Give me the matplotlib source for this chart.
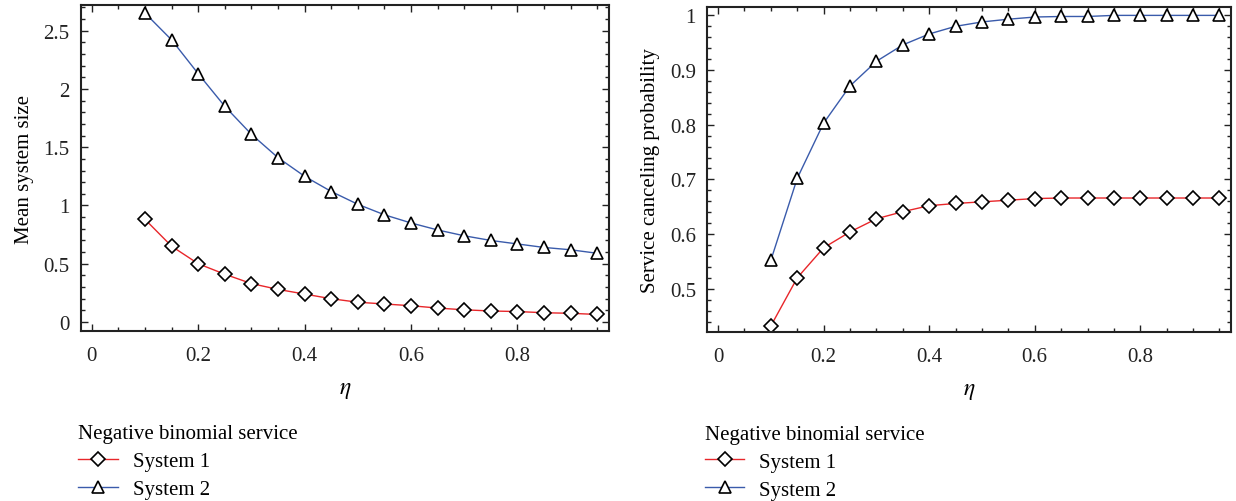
import numpy as np
import matplotlib.pyplot as plt
from matplotlib.ticker import MultipleLocator

plt.rcParams['font.family'] = ['Liberation Serif', 'DejaVu Serif']
plt.rcParams['mathtext.fontset'] = 'stix'

eta = [0.10, 0.15, 0.20, 0.25, 0.30, 0.35, 0.40, 0.45, 0.50,
       0.55, 0.60, 0.65, 0.70, 0.75, 0.80, 0.85, 0.90, 0.95]

# mean system size
size_sys1 = [0.88, 0.65, 0.50, 0.41, 0.33, 0.28, 0.24, 0.20, 0.17,
             0.155, 0.14, 0.12, 0.105, 0.095, 0.09, 0.08, 0.075, 0.065]
size_sys2 = [2.65, 2.42, 2.13, 1.85, 1.61, 1.41, 1.25, 1.12, 1.01,
             0.92, 0.85, 0.79, 0.74, 0.70, 0.67, 0.64, 0.62, 0.59]

# service canceling probability
cancel_sys1 = [0.432, 0.520, 0.575, 0.604, 0.628, 0.641, 0.652, 0.656, 0.659,
               0.662, 0.665, 0.666, 0.666, 0.666, 0.666, 0.666, 0.666, 0.666]
cancel_sys2 = [0.552, 0.702, 0.803, 0.871, 0.916, 0.946, 0.966, 0.980, 0.988,
               0.993, 0.997, 0.998, 0.998, 1.0, 1.0, 1.0, 1.0, 1.0]

red = '#e8262a'
blue = '#3a5bab'

fig = plt.figure(figsize=(12.36, 5.02), dpi=100)
ax1 = fig.add_axes([0.0653, 0.3386, 0.4274, 0.6494])
ax2 = fig.add_axes([0.572, 0.3367, 0.424, 0.647])


def draw(ax, y1, y2, ylabel, ylim, ymajor, yminor):
    ax.plot(eta, y1, color=red, lw=1.0, marker='D', ms=7.5, mfc='white',
            mec='black', mew=1.2, label='System 1')
    ax.plot(eta, y2, color=blue, lw=1.0, marker='^', ms=9, mfc='white',
            mec='black', mew=1.2, label='System 2')
    ax.set_xlim(-0.021, 0.972)
    ax.set_ylim(*ylim)
    ax.xaxis.set_major_locator(MultipleLocator(0.2))
    ax.xaxis.set_minor_locator(MultipleLocator(0.05))
    ax.yaxis.set_major_locator(MultipleLocator(ymajor))
    ax.yaxis.set_minor_locator(MultipleLocator(yminor))
    ax.xaxis.set_major_formatter(plt.FuncFormatter(lambda v, p: f'{v:g}'))
    ax.yaxis.set_major_formatter(plt.FuncFormatter(lambda v, p: f'{v:g}'))
    ax.tick_params(which='both', direction='in', top=True, right=True,
                   labelsize=15, colors='#222222', width=1.0)
    ax.tick_params(which='major', length=5)
    ax.tick_params(axis='x', which='major', pad=11)
    ax.tick_params(axis='y', which='major', pad=8)
    ax.tick_params(which='minor', length=3)
    for s in ax.spines.values():
        s.set_linewidth(1.5)
        s.set_color('#222222')
    ax.set_xlabel(r'$\eta$', fontsize=17, labelpad=10)
    ax.set_ylabel(ylabel, fontsize=15, labelpad=7)
    ax.legend(title='Negative binomial service', loc='upper left',
              bbox_to_anchor=(-0.02, -0.26), frameon=False,
              fontsize=15, title_fontsize=15, alignment='left',
              handlelength=1.9, handletextpad=0.7, labelspacing=0.4,
              borderaxespad=0, markerscale=0.9)


draw(ax1, size_sys1, size_sys2, 'Mean system size', (-0.077, 2.72), 0.5, 0.1)
draw(ax2, cancel_sys1, cancel_sys2, 'Service canceling probability',
     (0.421, 1.015), 0.1, 0.02)

fig.savefig('out.png', dpi=100)
